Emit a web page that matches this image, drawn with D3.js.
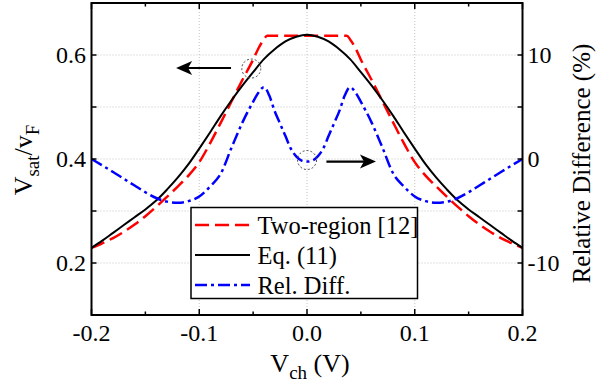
<!DOCTYPE html>
<html>
<head>
<meta charset="utf-8">
<script src="https://cdn.jsdelivr.net/npm/d3@7"></script>
<style>
  html, body { margin: 0; padding: 0; background: #fff; }
  svg { display: block; }
  text { font-family: "Liberation Serif", "Times New Roman", serif; fill: #000; }
</style>
</head>
<body>
<svg id="chart" width="611" height="388"></svg>
<script>
// Channel voltage V_ch (V) samples
const vch = [-0.2, -0.19, -0.18, -0.17, -0.16, -0.15, -0.14, -0.13, -0.12, -0.11, -0.1,
  -0.09, -0.08, -0.07, -0.06, -0.05, -0.04, -0.03, -0.02, -0.01, 0,
  0.01, 0.02, 0.03, 0.04, 0.05, 0.06, 0.07, 0.08, 0.09, 0.1,
  0.11, 0.12, 0.13, 0.14, 0.15, 0.16, 0.17, 0.18, 0.19, 0.2];

// Eq. (11): v_sat / v_F
const eq11 = [0.229, 0.243, 0.258, 0.273, 0.288, 0.303, 0.320, 0.341, 0.364, 0.390, 0.420,
  0.451, 0.483, 0.513, 0.541, 0.567, 0.592, 0.611, 0.626, 0.635, 0.639,
  0.635, 0.626, 0.611, 0.592, 0.567, 0.541, 0.513, 0.483, 0.451, 0.420,
  0.390, 0.364, 0.341, 0.320, 0.303, 0.288, 0.273, 0.258, 0.243, 0.229];

// Two-region model [12]
const twoRegionX = [-0.2, -0.19, -0.18, -0.17, -0.16, -0.15, -0.14, -0.13, -0.12, -0.11, -0.1,
  -0.09, -0.08, -0.07, -0.06, -0.05, -0.045, -0.04, -0.037,
  0.037, 0.04, 0.045, 0.05, 0.06, 0.07, 0.08, 0.09, 0.1,
  0.11, 0.12, 0.13, 0.14, 0.15, 0.16, 0.17, 0.18, 0.19, 0.2];
const twoRegion = [0.229, 0.238, 0.248, 0.260, 0.274, 0.290, 0.308, 0.327, 0.347, 0.368, 0.394,
  0.430, 0.470, 0.511, 0.552, 0.591, 0.613, 0.630, 0.637,
  0.637, 0.630, 0.613, 0.591, 0.552, 0.511, 0.470, 0.430, 0.394,
  0.368, 0.347, 0.327, 0.308, 0.290, 0.274, 0.260, 0.248, 0.238, 0.229];

// Relative difference (%) between the two models
const relDiffX = [-0.2, -0.19, -0.18, -0.17, -0.16, -0.15, -0.14, -0.13, -0.12, -0.11, -0.1,
  -0.09, -0.08, -0.07, -0.06, -0.05, -0.045, -0.04, -0.035, -0.03, -0.025, -0.02, -0.015, -0.01, -0.005, 0,
  0.005, 0.01, 0.015, 0.02, 0.025, 0.03, 0.035, 0.04, 0.045, 0.05, 0.06, 0.07, 0.08, 0.09, 0.1,
  0.11, 0.12, 0.13, 0.14, 0.15, 0.16, 0.17, 0.18, 0.19, 0.2];
const relDiff = [0.0, -0.62, -1.25, -1.9, -2.55, -3.2, -3.75, -4.1, -4.2, -4.05, -3.6,
  -2.65, -1.4, 1.1, 3.5, 5.5, 6.4, 6.9, 6.1, 4.6, 3.4, 2.2, 1.0, 0.25, -0.15, -0.25,
  -0.15, 0.25, 1.0, 2.2, 3.4, 4.6, 6.1, 6.9, 6.4, 5.5, 3.5, 1.1, -1.4, -2.65, -3.6,
  -4.05, -4.2, -4.1, -3.75, -3.2, -2.55, -1.9, -1.25, -0.62, 0.0];

// Axis ticks and labels
const xTicks = [-0.2, -0.1, 0.0, 0.1, 0.2];
const xMinorTicks = [-0.15, -0.05, 0.05, 0.15];
const xTickLabels = ["-0.2", "-0.1", "0.0", "0.1", "0.2"];
const yLeftTicks = [0.2, 0.3, 0.4, 0.5, 0.6];
const yLeftLabelled = [0.2, 0.4, 0.6];
const yRightTicks = [-10, -5, 0, 5, 10];
const yRightLabelled = [-10, 0, 10];
const legendLabels = ["Two-region [12]", "Eq. (11)", "Rel. Diff."];

// Annotations in data units: arrows point to the axis each curve uses
const arrowLeft = { from: [-0.0705, 0.575], to: [-0.1215, 0.575] };
const arrowRight = { from: [0.018, 0.395], to: [0.064, 0.395] };
const markCircles = [[-0.0517, 0.574], [0.0, 0.398]];

const svg = d3.select("#chart");
const W = 611, H = 388;
const plot = { left: 91.5, right: 522.5, top: 3, bottom: 315 };

const x = d3.scaleLinear().domain([-0.2, 0.2]).range([plot.left, plot.right]);
const yL = d3.scaleLinear().domain([0.1, 0.7]).range([plot.bottom, plot.top]);
const yR = d3.scaleLinear().domain([-15, 15]).range([plot.bottom, plot.top]);

svg.append("rect").attr("width", W).attr("height", H).attr("fill", "#fff");

// Dotted grid
const grid = svg.append("g").attr("stroke", "#c4c4c4").attr("stroke-width", 1)
  .attr("stroke-dasharray", "1,2");
grid.selectAll("line.v").data([-0.1, 0, 0.1]).join("line")
  .attr("x1", d => x(d)).attr("x2", d => x(d))
  .attr("y1", plot.top).attr("y2", plot.bottom);
grid.selectAll("line.h").data(yLeftTicks).join("line")
  .attr("x1", plot.left).attr("x2", plot.right)
  .attr("y1", d => yL(d)).attr("y2", d => yL(d));

// Curves
const lineL = d3.line().x(d => x(d[0])).y(d => yL(d[1])).curve(d3.curveMonotoneX);
const lineR = d3.line().x(d => x(d[0])).y(d => yR(d[1])).curve(d3.curveMonotoneX);

svg.append("path")
  .attr("d", lineL(d3.zip(twoRegionX, twoRegion)))
  .attr("fill", "none").attr("stroke", "#ff0000").attr("stroke-width", 2.5)
  .attr("stroke-dasharray", "14,6");

svg.append("path")
  .attr("d", lineL(d3.zip(vch, eq11)))
  .attr("fill", "none").attr("stroke", "#000").attr("stroke-width", 2);

svg.append("path")
  .attr("d", lineR(d3.zip(relDiffX, relDiff)))
  .attr("fill", "none").attr("stroke", "#0000ff").attr("stroke-width", 2.5)
  .attr("stroke-dasharray", "12,4,3,4");

// Dashed marker circles
svg.selectAll("circle.mark").data(markCircles).join("circle")
  .attr("cx", d => x(d[0])).attr("cy", d => yL(d[1])).attr("r", 9.5)
  .attr("fill", "none").attr("stroke", "#444").attr("stroke-width", 1)
  .attr("stroke-dasharray", "2,2");

// Arrows
function arrow(a) {
  const x1 = x(a.from[0]), y1 = yL(a.from[1]);
  const x2 = x(a.to[0]), y2 = yL(a.to[1]);
  const dir = Math.sign(x2 - x1);
  svg.append("line")
    .attr("x1", x1).attr("y1", y1).attr("x2", x2 - dir * 10).attr("y2", y2)
    .attr("stroke", "#000").attr("stroke-width", 2.2);
  const L = 16, hw = 7, notch = 4;
  svg.append("path")
    .attr("d", `M${x2},${y2} L${x2 - dir * L},${y2 - hw} L${x2 - dir * (L - notch)},${y2} L${x2 - dir * L},${y2 + hw} Z`)
    .attr("fill", "#000");
}
arrow(arrowLeft);
arrow(arrowRight);

// Legend
const lg = svg.append("g");
lg.append("rect").attr("x", 191).attr("y", 207.5).attr("width", 226.5).attr("height", 91)
  .attr("fill", "#fff").attr("stroke", "#000").attr("stroke-width", 1.5);
const legendStyles = [
  { stroke: "#ff0000", width: 2.5, dash: "14,6" },
  { stroke: "#000", width: 2, dash: null },
  { stroke: "#0000ff", width: 2.5, dash: "12,4,3,4" }
];
legendLabels.forEach((lab, i) => {
  const cy = 225 + i * 30;
  const s = legendStyles[i];
  lg.append("line").attr("x1", 195).attr("x2", 250).attr("y1", cy).attr("y2", cy)
    .attr("stroke", s.stroke).attr("stroke-width", s.width)
    .attr("stroke-dasharray", s.dash);
  lg.append("text").attr("x", 257.5).attr("y", cy + 8.5)
    .attr("font-size", 24.5).text(lab);
});

// Frame
svg.append("rect").attr("x", plot.left).attr("y", plot.top)
  .attr("width", plot.right - plot.left).attr("height", plot.bottom - plot.top)
  .attr("fill", "none").attr("stroke", "#000").attr("stroke-width", 2);

// Inward ticks
const tk = svg.append("g").attr("stroke", "#000").attr("stroke-width", 1.5);
xTicks.forEach(v => {
  tk.append("line").attr("x1", x(v)).attr("x2", x(v)).attr("y1", plot.bottom).attr("y2", plot.bottom - 6);
  tk.append("line").attr("x1", x(v)).attr("x2", x(v)).attr("y1", plot.top).attr("y2", plot.top + 6);
});
xMinorTicks.forEach(v => {
  tk.append("line").attr("x1", x(v)).attr("x2", x(v)).attr("y1", plot.bottom).attr("y2", plot.bottom - 3.5);
  tk.append("line").attr("x1", x(v)).attr("x2", x(v)).attr("y1", plot.top).attr("y2", plot.top + 3.5);
});
yLeftTicks.forEach(v => {
  tk.append("line").attr("x1", plot.left).attr("x2", plot.left + 5).attr("y1", yL(v)).attr("y2", yL(v));
});
yRightTicks.forEach(v => {
  tk.append("line").attr("x1", plot.right).attr("x2", plot.right - 5).attr("y1", yR(v)).attr("y2", yR(v));
});

// Tick labels
const fs = 24;
xTicks.forEach((v, i) => {
  svg.append("text").attr("x", x(v)).attr("y", 340.5).attr("text-anchor", "middle")
    .attr("font-size", fs).text(xTickLabels[i]);
});
yLeftLabelled.forEach(v => {
  svg.append("text").attr("x", 86).attr("y", yL(v) + 8.3).attr("text-anchor", "end")
    .attr("font-size", fs).text(d3.format(".1f")(v));
});
yRightLabelled.forEach(v => {
  svg.append("text").attr("x", 527.5).attr("y", yR(v) + 8.3).attr("text-anchor", "start")
    .attr("font-size", fs).text(String(v));
});

// Axis titles
const xt = svg.append("text").attr("x", 310).attr("y", 372).attr("text-anchor", "middle")
  .attr("font-size", 26);
xt.append("tspan").text("V");
xt.append("tspan").attr("font-size", 19).attr("dy", 7).text("ch");
xt.append("tspan").attr("dy", -7).text(" (V)");

const ylt = svg.append("text").attr("transform", "translate(32,160) rotate(-90)")
  .attr("text-anchor", "middle").attr("font-size", 26);
ylt.append("tspan").text("V");
ylt.append("tspan").attr("font-size", 19).attr("dy", 7).text("sat");
ylt.append("tspan").attr("dy", -7).text("/v");
ylt.append("tspan").attr("font-size", 19).attr("dy", 7).text("F");

svg.append("text").attr("transform", "translate(590,163.5) rotate(-90)")
  .attr("text-anchor", "middle").attr("font-size", 25).text("Relative Difference (%)");
</script>
</body>
</html>
